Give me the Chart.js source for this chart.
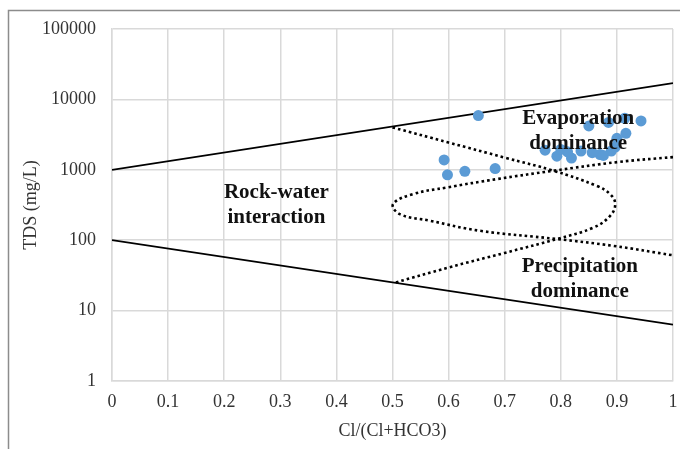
<!DOCTYPE html>
<html>
<head>
<meta charset="utf-8">
<script src="https://cdn.jsdelivr.net/npm/chart.js@4.4.1/dist/chart.umd.min.js"></script>
<style>
  html, body { margin: 0; padding: 0; background: #fff; }
  #wrap { position: relative; width: 680px; height: 449px; }
</style>
</head>
<body>
<div id="wrap"><canvas id="gibbs" width="680" height="449"></canvas></div>
<script>
// axis ticks
const xTicks = [0, 0.1, 0.2, 0.3, 0.4, 0.5, 0.6, 0.7, 0.8, 0.9, 1];
const yTicks = [1, 10, 100, 1000, 10000, 100000];

// samples: Cl/(Cl+HCO3) and TDS (mg/L)
const sampleRatio = [0.653, 0.592, 0.598, 0.629, 0.683, 0.772, 0.793, 0.819, 0.850, 0.885, 0.914,
                     0.943, 0.916, 0.900, 0.897, 0.890, 0.870, 0.856, 0.836, 0.800, 0.812, 0.876];
const sampleTDS = [5900, 1380, 850, 950, 1040, 1900, 1560, 1470, 4200, 4700, 5400,
                   4950, 3300, 2800, 2100, 1850, 1650, 1750, 1850, 1950, 1800, 1600];

// solid boundary lines
const upperX = [0, 1];
const upperTDS = [1000, 17000];
const lowerX = [0, 1];
const lowerTDS = [100, 6.3];

// dotted boomerang (outer) and inner loop
const outerX = [0.5, 0.6, 0.7, 0.787, 0.864, 0.888, 0.897, 0.888, 0.858, 0.793, 0.7, 0.6, 0.505];
const outerTDS = [4000, 2440, 1490, 970, 590, 450, 326, 222, 151, 104, 66, 41, 25];
const innerX = [1.0, 0.902, 0.787, 0.686, 0.597, 0.537, 0.501, 0.513, 0.567, 0.656, 0.793, 0.894, 1.0];
const innerTDS = [1515, 1290, 970, 738, 561, 452, 326, 235, 189, 136, 104, 83, 61];

const toPts = (xs, ys) => xs.map((x, i) => ({x: x, y: ys[i]}));

const serif = "'Liberation Serif', 'Times New Roman', serif";

// frame + region labels
const extras = {
  id: 'extras',
  beforeDraw(chart) {
    const c = chart.ctx;
    c.save();
    c.fillStyle = '#fff';
    c.fillRect(0, 0, chart.width, chart.height);
    c.strokeStyle = '#8c8c8c';
    c.lineWidth = 1.5;
    c.beginPath();
    c.moveTo(8.5, chart.height);
    c.lineTo(8.5, 10.5);
    c.lineTo(chart.width, 10.5);
    c.stroke();
    c.restore();
  },
  afterDatasetsDraw(chart) {
    const c = chart.ctx, xs = chart.scales.x, ys = chart.scales.y;
    const labels = [
      [0.293, 471, 'Rock-water', 'interaction'],
      [0.831, 5300, 'Evaporation', 'dominance'],
      [0.834, 42, 'Precipitation', 'dominance']
    ];
    c.save();
    c.fillStyle = '#111';
    c.font = 'bold 21px ' + serif;
    c.textAlign = 'center';
    c.textBaseline = 'middle';
    labels.forEach(l => {
      const px = xs.getPixelForValue(l[0]);
      const py = ys.getPixelForValue(l[1]);
      c.fillText(l[2], px, py);
      c.fillText(l[3], px, py + 25);
    });
    c.restore();
  }
};

new Chart(document.getElementById('gibbs').getContext('2d'), {
  type: 'scatter',
  data: {
    datasets: [
      {
        label: 'Samples',
        data: toPts(sampleRatio, sampleTDS),
        backgroundColor: '#5B9BD5',
        borderWidth: 0,
        pointRadius: 5.5,
        pointHoverRadius: 5.5,
        order: 1
      },
      {
        label: 'upper',
        data: toPts(upperX, upperTDS),
        showLine: true,
        borderColor: '#000',
        borderWidth: 1.8,
        pointRadius: 0,
        order: 2
      },
      {
        label: 'lower',
        data: toPts(lowerX, lowerTDS),
        showLine: true,
        borderColor: '#000',
        borderWidth: 1.8,
        pointRadius: 0,
        order: 2
      },
      {
        label: 'outer',
        data: toPts(outerX, outerTDS),
        showLine: true,
        borderColor: '#000',
        borderWidth: 2.6,
        borderDash: [2.6, 3],
        tension: 0.4,
        pointRadius: 0,
        order: 2
      },
      {
        label: 'inner',
        data: toPts(innerX, innerTDS),
        showLine: true,
        borderColor: '#000',
        borderWidth: 2.6,
        borderDash: [2.6, 3],
        tension: 0.4,
        pointRadius: 0,
        order: 2
      }
    ]
  },
  options: {
    responsive: false,
    animation: false,
    events: [],
    layout: { padding: { left: 10, top: 29, right: 7, bottom: 0 } },
    plugins: {
      legend: { display: false },
      tooltip: { enabled: false },
      title: { display: false }
    },
    scales: {
      x: {
        type: 'linear',
        min: 0,
        max: 1,
        afterBuildTicks: s => { s.ticks = xTicks.map(v => ({value: v})); },
        afterFit: s => { s.height = 68; s.paddingLeft = 0; s.paddingRight = 0; },
        ticks: {
          callback: v => String(Math.round(v * 10) / 10),
          font: { family: serif, size: 18 },
          color: '#333',
          padding: 10,
          maxRotation: 0
        },
        grid: { color: '#d9d9d9', lineWidth: 1.5, drawTicks: false },
        border: { color: '#d9d9d9', width: 1.5 },
        title: {
          display: true,
          text: 'Cl/(Cl+HCO3)',
          font: { family: serif, size: 18 },
          color: '#333',
          padding: { top: 0, bottom: 7 }
        }
      },
      y: {
        type: 'logarithmic',
        min: 1,
        max: 100000,
        afterBuildTicks: s => { s.ticks = yTicks.map(v => ({value: v})); },
        afterFit: s => { s.width = 102; },
        ticks: {
          callback: v => String(v),
          font: { family: serif, size: 18 },
          color: '#333',
          padding: 16
        },
        grid: { color: '#d9d9d9', lineWidth: 1.5, drawTicks: false },
        border: { color: '#d9d9d9', width: 1.5 },
        title: {
          display: true,
          text: 'TDS (mg/L)',
          font: { family: serif, size: 18 },
          color: '#333',
          padding: { top: 10, bottom: 0 }
        }
      }
    }
  },
  plugins: [extras]
});
</script>
</body>
</html>
